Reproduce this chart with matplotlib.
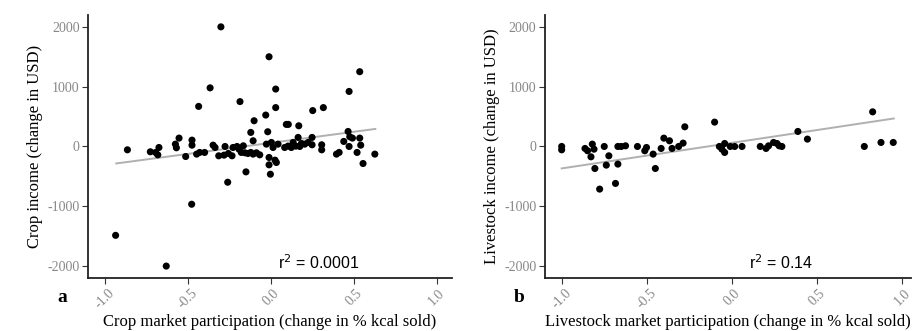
import numpy as np
import matplotlib
matplotlib.use('Agg')
import matplotlib.pyplot as plt

plt.rcParams['font.family'] = ['Liberation Serif', 'DejaVu Serif']
plt.rcParams['axes.unicode_minus'] = False

# panel a: crop market participation vs crop income
crop_x = [-0.30, -0.01, 0.536, -0.365, 0.03, 0.472, -0.185, -0.434, 0.03, 0.317,
          0.253, -0.03, -0.10, 0.094, 0.106, 0.169, -0.12, -0.018, 0.466, -0.106,
          -0.552, -0.474, -0.474, -0.574, -0.568, -0.863, -0.725, -0.693, -0.673, -0.68,
          -0.512, -0.446, -0.428, -0.398, -0.347, -0.335, -0.313, -0.281, -0.275, -0.255,
          -0.233, -0.227, -0.203, -0.191, -0.177, -0.165, -0.155, -0.137, -0.12, -0.106,
          -0.086, -0.066, -0.149, -0.259, -0.476, -0.934, -0.629, -0.01, -0.01, -0.002,
          0.034, 0.026, -0.026, 0.004, 0.014, 0.044, 0.084, 0.104, 0.124, 0.135,
          0.151, 0.165, 0.175, 0.185, 0.205, 0.225, 0.249, 0.249, 0.307, 0.307,
          0.396, 0.412, 0.44, 0.472, 0.476, 0.492, 0.536, 0.542, 0.52, 0.556, 0.627]
crop_y = [2000, 1500, 1250, 980, 960, 920, 750, 670, 650, 650,
          600, 525, 430, 369, 369, 346, 235, 246, 251, 95,
          140, 106, 22, 39, -22, -56, -89, -100, -17, -140,
          -168, -128, -100, -100, 22, -17, -156, -145, 0, -117,
          -156, -17, 0, -45, -100, 11, -106, -117, -100, -128,
          -106, -140, -425, -598, -966, -1486, -2000, -184, -307, -464,
          -268, -229, 39, 67, -17, 39, -17, 6, -17, 67,
          6, 151, 0, 50, 39, 67, 151, 28, 28, -56,
          -128, -100, 84, 0, 162, 140, 140, 22, -100, -285, -128]
crop_fit = (370, 60)          # slope, intercept
crop_fit_range = (-0.93, 0.63)
crop_r2 = '0.0001'

# panel b: livestock market participation vs livestock income
live_x = [-1.0, -1.0, -0.863, -0.848, -0.82, -0.81, -0.828, -0.805, -0.777, -0.75,
          -0.738, -0.723, -0.684, -0.67, -0.67, -0.65, -0.625, -0.555, -0.512, -0.502,
          -0.463, -0.45, -0.416, -0.40, -0.367, -0.352, -0.313, -0.287, -0.277, -0.102,
          -0.074, -0.059, -0.043, -0.043, -0.01, 0.016, 0.059, 0.166, 0.20, 0.215,
          0.244, 0.264, 0.277, 0.293, 0.387, 0.443, 0.777, 0.826, 0.875, 0.947]
live_y = [0, -56, -33, -72, 39, -45, -173, -368, -713, 0,
          -312, -156, -618, -295, 0, 0, 11, 0, -72, -17,
          -128, -368, -33, 139, 95, -33, 0, 56, 329, 407,
          0, -45, 50, -100, 0, 0, 0, 0, -33, 11,
          67, 50, 11, 0, 251, 123, 0, 579, 67, 67]
live_fit = (428, 61)
live_fit_range = (-1.0, 0.95)
live_r2 = '0.14'

xticks = [-1.0, -0.5, 0.0, 0.5, 1.0]
yticks = [-2000, -1000, 0, 1000, 2000]

fig = plt.figure(figsize=(9.2, 3.31), dpi=100)
ax1 = fig.add_axes([0.0957, 0.160, 0.3953, 0.795])
ax2 = fig.add_axes([0.592, 0.160, 0.398, 0.795])

panels = [
    (ax1, crop_x, crop_y, crop_fit, crop_fit_range, crop_r2, 'a',
     'Crop market participation (change in % kcal sold)', 'Crop income (change in USD)', (-1.1, 1.09)),
    (ax2, live_x, live_y, live_fit, live_fit_range, live_r2, 'b',
     'Livestock market participation (change in % kcal sold)', 'Livestock income (change in USD)', (-1.1, 1.05)),
]

for ax, xs, ys, fit, fr, r2, tag, xlab, ylab, xlim in panels:
    fx = np.array(fr)
    ax.plot(fx, fit[0] * fx + fit[1], '-', color='#b0b0b0', linewidth=1.4, zorder=1)
    ax.scatter(xs, ys, s=26, color='black', edgecolors='none', zorder=2)
    ax.set_xlim(xlim)
    ax.set_ylim([-2200, 2200])
    ax.set_xticks(xticks)
    ax.set_xticklabels(['%.1f' % v for v in xticks], rotation=45, ha='center', va='top')
    ax.set_yticks(yticks)
    ax.tick_params(axis='both', colors='#333333', labelcolor='#888888', labelsize=10,
                   length=4, width=0.8, direction='out', pad=2)
    for s in ['top', 'right']:
        ax.spines[s].set_visible(False)
    for s in ['left', 'bottom']:
        ax.spines[s].set_linewidth(1.3)
        ax.spines[s].set_color('#222222')
    ax.set_xlabel(xlab, fontsize=12, labelpad=2)
    ax.set_ylabel(ylab, fontsize=12, labelpad=3)
    ax.text(0.29, -1950, r'r$^2$ = ' + r2, family=['Liberation Sans', 'DejaVu Sans'],
            fontsize=11.5, ha='center', va='center')
    ax.text(-0.07, -0.04, tag, transform=ax.transAxes, fontsize=14, fontweight='bold',
            ha='center', va='top')

plt.savefig('out.png', dpi=100)
